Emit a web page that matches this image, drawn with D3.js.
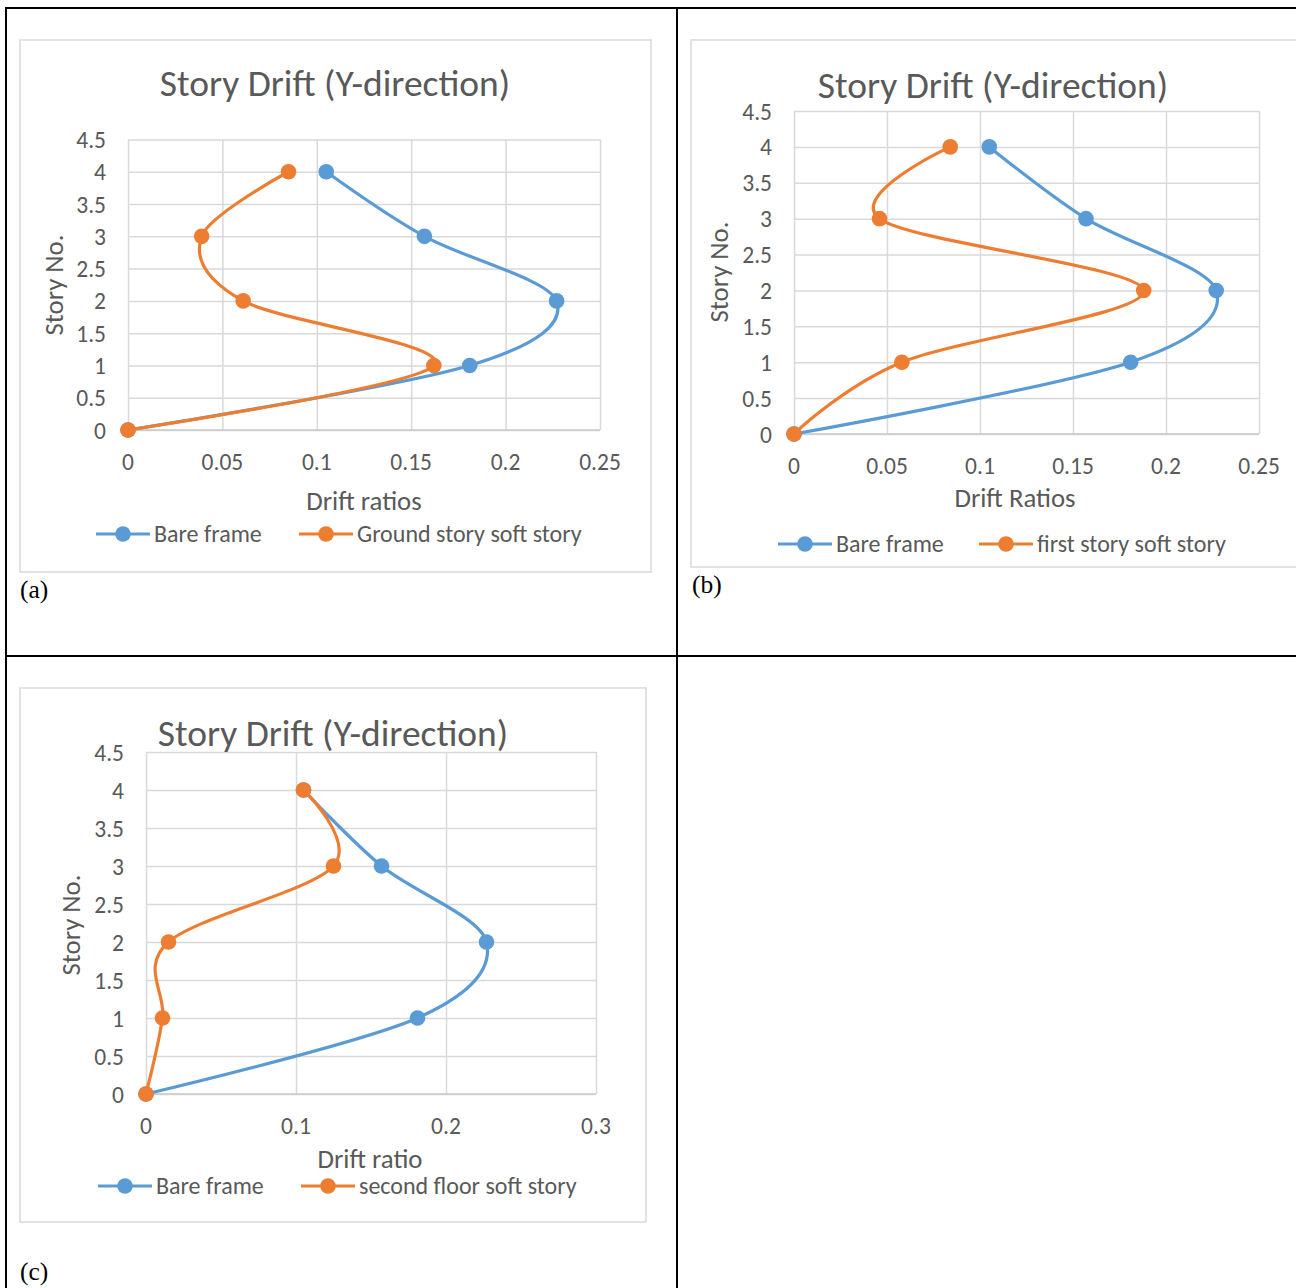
<!DOCTYPE html>
<html>
<head>
<meta charset="utf-8">
<script src="https://cdn.jsdelivr.net/npm/d3@7"></script>
<style>
  body { margin: 0; background: #fff; }
  svg text { font-family: Carlito, Lato, "Noto Sans", sans-serif; fill: #595959; }
  svg text.sub { font-family: "Liberation Serif", "DejaVu Serif", serif; fill: #000; }
</style>
</head>
<body>
<div id="chart"></div>
<script>
// story numbers (y values) shared by every series
const stories = [0, 1, 2, 3, 4];

// drift ratios, one per story
const bareFrame  = [0, 0.181, 0.227, 0.157, 0.105];
const groundSoft = [0, 0.162, 0.061, 0.039, 0.085];
const firstSoft  = [0, 0.058, 0.188, 0.046, 0.084];
const secondSoft = [0, 0.011, 0.015, 0.125, 0.105];

// tick labels
const yTicks   = [0, 0.5, 1, 1.5, 2, 2.5, 3, 3.5, 4, 4.5];
const xTicksAB = [0, 0.05, 0.1, 0.15, 0.2, 0.25];
const xTicksC  = [0, 0.1, 0.2, 0.3];

// legend names
const namesA = ["Bare frame", "Ground story soft story"];
const namesB = ["Bare frame", "first story soft story"];
const namesC = ["Bare frame", "second floor soft story"];

const colors = ["#5B9BD5", "#ED7D31"];
const chartTitle = "Story Drift (Y-direction)";

// page layout for the three panels
const panels = [
  {label: "(a)", labelPos: [20, 598], box: [20, 40, 651, 572], plot: {left: 128, top: 139.5, right: 600, bottom: 430},
   titleY: 82, titleX: 335, xTitle: "Drift ratios", xTitlePos: [364, 500], yTitlePos: [53, 285],
   xTicks: xTicksAB, series: [bareFrame, groundSoft], names: namesA, legendY: 534, legendX: [96, 299]},
  {label: "(b)", labelPos: [692, 593], box: [691, 40, 1310, 567], plot: {left: 794, top: 111, right: 1259, bottom: 434},
   titleY: 84, titleX: 993, xTitle: "Drift Ratios", xTitlePos: [1015, 497], yTitlePos: [718, 272],
   xTicks: xTicksAB, series: [bareFrame, firstSoft], names: namesB, legendY: 544, legendX: [778, 979]},
  {label: "(c)", labelPos: [20, 1280], box: [20, 688, 646, 1222], plot: {left: 146, top: 752, right: 596, bottom: 1094},
   titleY: 732, titleX: 333, xTitle: "Drift ratio", xTitlePos: [370, 1158], yTitlePos: [70, 925],
   xTicks: xTicksC, series: [bareFrame, secondSoft], names: namesC, legendY: 1186, legendX: [98, 301]}
];

const svg = d3.select("#chart")
  .append("svg")
  .attr("width", 1296)
  .attr("height", 1288)
  .attr("style", "background-color: white");

// table borders around the panels
const table = svg.append("g").attr("stroke", "#000").attr("stroke-width", 2);
table.append("line").attr("x1", 5).attr("x2", 1296).attr("y1", 8).attr("y2", 8);
table.append("line").attr("x1", 5).attr("x2", 1296).attr("y1", 656).attr("y2", 656);
table.append("line").attr("x1", 6).attr("x2", 6).attr("y1", 7).attr("y2", 1288);
table.append("line").attr("x1", 677).attr("x2", 677).attr("y1", 7).attr("y2", 1288);

function drawPanel(p) {
  const g = svg.append("g");

  // chart area border
  g.append("rect")
    .attr("x", p.box[0]).attr("y", p.box[1])
    .attr("width", p.box[2] - p.box[0]).attr("height", p.box[3] - p.box[1])
    .attr("fill", "#fff").attr("stroke", "#d9d9d9").attr("stroke-width", 1.5);

  const x = d3.scaleLinear()
    .domain([0, d3.max(p.xTicks)])
    .range([p.plot.left, p.plot.right]);
  const y = d3.scaleLinear()
    .domain([0, 4.5])
    .range([p.plot.bottom, p.plot.top]);

  // gridlines
  g.append("g")
    .attr("transform", `translate(0, ${p.plot.bottom})`)
    .call(d3.axisBottom(x).tickValues(p.xTicks).tickSize(-(p.plot.bottom - p.plot.top)).tickFormat(""))
    .call(a => a.select(".domain").remove())
    .call(a => a.selectAll("line").attr("stroke", "#d9d9d9").attr("stroke-width", 1.5));
  g.append("g")
    .attr("transform", `translate(${p.plot.left}, 0)`)
    .call(d3.axisLeft(y).tickValues(yTicks).tickSize(-(p.plot.right - p.plot.left)).tickFormat(""))
    .call(a => a.select(".domain").remove())
    .call(a => a.selectAll("line").attr("stroke", "#d9d9d9").attr("stroke-width", 1.5));

  // bottom axis line slightly darker
  g.append("line")
    .attr("x1", p.plot.left).attr("x2", p.plot.right)
    .attr("y1", y(0)).attr("y2", y(0))
    .attr("stroke", "#c8c8c8").attr("stroke-width", 1.5);

  // tick labels
  g.selectAll(".xl").data(p.xTicks).join("text")
    .attr("x", d => x(d)).attr("y", p.plot.bottom + 40)
    .attr("text-anchor", "middle").attr("font-size", 23.5)
    .text(d => d3.format("~g")(d));
  g.selectAll(".yl").data(yTicks).join("text")
    .attr("x", p.plot.left - 22).attr("y", d => y(d) + 8.5)
    .attr("text-anchor", "end").attr("font-size", 23.5)
    .text(d => d3.format("~g")(d));

  // titles
  g.append("text")
    .attr("x", p.titleX).attr("y", p.titleY + 14)
    .attr("text-anchor", "middle").attr("font-size", 37.5)
    .text(chartTitle);
  g.append("text")
    .attr("x", p.xTitlePos[0]).attr("y", p.xTitlePos[1] + 10)
    .attr("text-anchor", "middle").attr("font-size", 26.8)
    .text(p.xTitle);
  g.append("text")
    .attr("transform", `translate(${p.yTitlePos[0] + 10}, ${p.yTitlePos[1]}) rotate(-90)`)
    .attr("text-anchor", "middle").attr("font-size", 26.8)
    .text("Story No.");

  // smoothed series
  const line = d3.line()
    .x(d => x(d[0]))
    .y(d => y(d[1]))
    .curve(d3.curveCardinal.tension(0));

  p.series.forEach((vals, i) => {
    const pts = vals.map((v, j) => [v, stories[j]]);
    g.append("path")
      .datum(pts)
      .attr("fill", "none")
      .attr("stroke", colors[i])
      .attr("stroke-width", 3.2)
      .attr("stroke-linecap", "round")
      .attr("d", line);
    g.append("g")
      .selectAll("circle")
      .data(pts)
      .join("circle")
      .attr("cx", d => x(d[0]))
      .attr("cy", d => y(d[1]))
      .attr("r", 7.8)
      .attr("fill", colors[i]);
  });

  // legend
  p.names.forEach((name, i) => {
    const lx = p.legendX[i];
    g.append("line")
      .attr("x1", lx).attr("x2", lx + 54)
      .attr("y1", p.legendY).attr("y2", p.legendY)
      .attr("stroke", colors[i]).attr("stroke-width", 3.2);
    g.append("circle")
      .attr("cx", lx + 27).attr("cy", p.legendY).attr("r", 7.8)
      .attr("fill", colors[i]);
    g.append("text")
      .attr("x", lx + 58).attr("y", p.legendY + 7.5)
      .attr("font-size", 24)
      .text(name);
  });

  // sub figure label
  svg.append("text")
    .attr("class", "sub")
    .attr("x", p.labelPos[0]).attr("y", p.labelPos[1])
    .attr("font-size", 25.5)
    .text(p.label);
}

panels.forEach(drawPanel);
</script>
</body>
</html>
